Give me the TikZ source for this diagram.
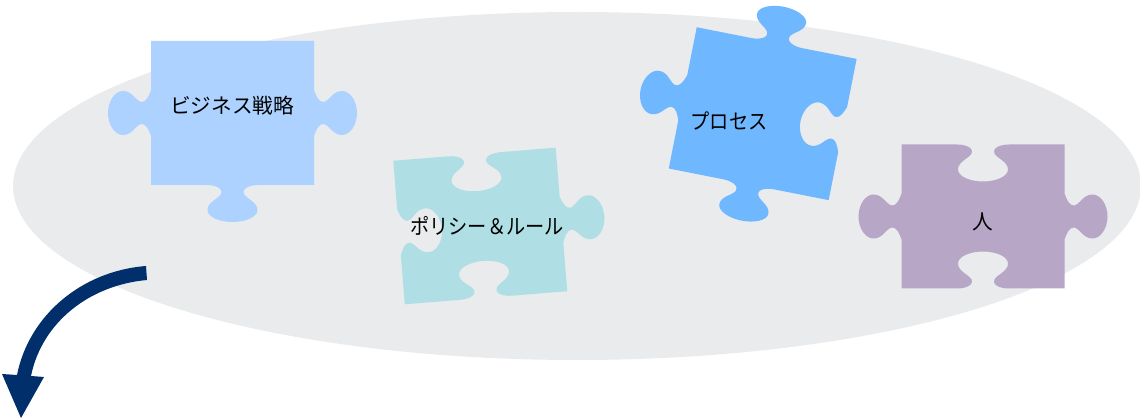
\documentclass[tikz,border=0pt]{standalone}
\usepackage{fontspec}
\setmainfont{Noto Sans CJK JP}
\newfontfamily\narrowkana[FakeStretch=0.9]{Noto Sans CJK JP}
\definecolor{ovalgray}{HTML}{E9EBED}
\definecolor{strategyblue}{HTML}{ADD2FF}
\definecolor{policyteal}{HTML}{AFDFE4}
\definecolor{processblue}{HTML}{6FB7FF}
\definecolor{peoplepurple}{HTML}{B7A6C6}
\definecolor{arrownavy}{HTML}{002F6C}
\newcommand{\tabh}[3]{-- (#3*-26,#1)
  .. controls (#3*-18,#1) and (#3*-9,#1+#2*3) .. (#3*-11.5,#1+#2*9)
  .. controls (#3*-14,#1+#2*14) and (#3*-25,#1+#2*17) .. (#3*-25,#1+#2*25)
  .. controls (#3*-25,#1+#2*32) and (#3*-13,#1+#2*37) .. (0,#1+#2*37)
  .. controls (#3*13,#1+#2*37) and (#3*25,#1+#2*32) .. (#3*25,#1+#2*25)
  .. controls (#3*25,#1+#2*17) and (#3*14,#1+#2*14) .. (#3*11.5,#1+#2*9)
  .. controls (#3*9,#1+#2*3) and (#3*18,#1) .. (#3*26,#1)}
\newcommand{\tabv}[3]{-- (#1,#3*-23)
  .. controls (#1+#2*2,#3*-17) and (#1+#2*5,#3*-11) .. (#1+#2*9,#3*-11)
  .. controls (#1+#2*15,#3*-11) and (#1+#2*18,#3*-22) .. (#1+#2*28,#3*-22)
  .. controls (#1+#2*36,#3*-22) and (#1+#2*43,#3*-12) .. (#1+#2*43,0)
  .. controls (#1+#2*43,#3*12) and (#1+#2*36,#3*22) .. (#1+#2*28,#3*22)
  .. controls (#1+#2*18,#3*22) and (#1+#2*15,#3*11) .. (#1+#2*9,#3*11)
  .. controls (#1+#2*5,#3*11) and (#1+#2*2,#3*17) .. (#1,#3*23)}
\tikzset{
  piecelabel/.style={font=\fontsize{15.5}{18}\selectfont,text=black,inner sep=0pt},
  narrowlabel/.style={font=\fontsize{16}{18}\selectfont\narrowkana,text=black,inner sep=0pt}
}
\begin{document}
\begin{tikzpicture}[x=0.75pt,y=-0.75pt]
    \useasboundingbox (0,0) rectangle (1140,420);
    \fill [ovalgray] (577,186) ellipse [x radius=564,y radius=174];
    \begin{scope}[shift={(232.5,113)}]
      \fill [strategyblue] (-81.5,-72) -- (81.5,-72) \tabv{81.5}{1}{1} -- (81.5,72) \tabh{72}{1}{-1} -- (-81.5,72) \tabv{-81.5}{-1}{-1} -- cycle;
    \end{scope}
    \begin{scope}[shift={(480.25,226)},rotate=4.6]
      \fill [policyteal] (-81.5,-72) \tabh{-72}{1}{1} -- (81.5,-72) \tabv{81.5}{1}{1} -- (81.5,72) \tabh{72}{-1}{-1} -- (-81.5,72) \tabv{-81.5}{1}{-1} -- cycle;
    \end{scope}
    \begin{scope}[shift={(762.7,113.7)},rotate=-11.2]
      \fill [processblue] (-81.5,-72) \tabh{-72}{-1}{1} -- (81.5,-72) \tabv{81.5}{-1}{1} -- (81.5,72) \tabh{72}{1}{-1} -- (-81.5,72) \tabv{-81.5}{-1}{-1} -- cycle;
    \end{scope}
    \begin{scope}[shift={(983,216.5)}]
      \fill [peoplepurple] (-81.5,-72) \tabh{-72}{1}{1} -- (81.5,-72) \tabv{81.5}{1}{1} -- (81.5,72) \tabh{72}{-1}{-1} -- (-81.5,72) \tabv{-81.5}{-1}{-1} -- cycle;
    \end{scope}
    \node [piecelabel] (strategy) at (232,106) {ビジネス戦略};
    \node [narrowlabel] (policy) at (487,226) {ポリシー＆ルール};
    \node [narrowlabel] (process) at (729,121) {プロセス};
    \node [piecelabel] (people) at (983,222) {人};
    \fill [arrownavy] (146,266) .. controls (82,271) and (29,315) .. (17,375) -- (2,374) -- (21,418) -- (44,377) -- (31,376) .. controls (42,322) and (90,285) .. (147,280) -- cycle;
  \end{tikzpicture}
\end{document}
